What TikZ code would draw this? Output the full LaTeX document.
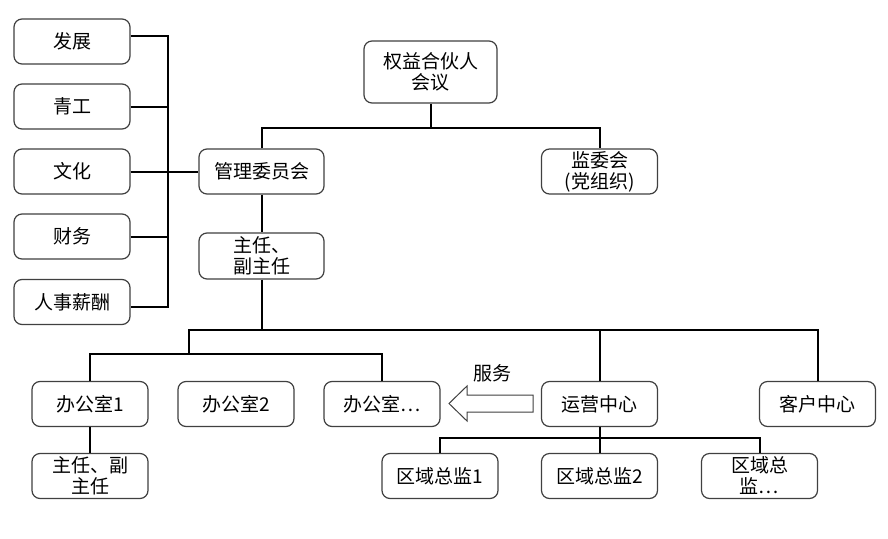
\documentclass[tikz,border=0pt]{standalone}
\usepackage{fontspec}
\setmainfont{Noto Sans CJK SC}
\definecolor{boxgray}{RGB}{64,64,64}
\begin{document}
\begin{tikzpicture}[x=1pt,y=-1pt,
    box/.style={draw=boxgray, line width=1.2pt, rounded corners=8pt, minimum width=116pt,
        minimum height=45pt, inner sep=0pt, align=center, font=\fontsize{19}{21}\selectfont},
    link/.style={line width=2pt}]
    \fill[white] (0,0) rectangle (888,538);
    % left column
    \node[box] (fazhan) at (72,41.5) {发展};
    \node[box] (qinggong) at (72,106.5) {青工};
    \node[box] (wenhua) at (72,171.5) {文化};
    \node[box] (caiwu) at (72,236.5) {财务};
    \node[box] (renshi) at (72,302) {人事薪酬};
    % top
    \node[box, minimum width=133pt, minimum height=62pt] (quanyi) at (430.5,72) {权益合伙人\\会议};
    \node[box, minimum width=125pt] (guanli) at (261.5,171.5) {管理委员会};
    \node[box] (jianwei) at (599.5,171.5) {监委会\\(党组织)};
    \node[box, minimum width=125pt, minimum height=46pt] (zhuren) at (261.5,256) {主任、\\副主任};
    % offices
    \node[box] (bangong1) at (90,404) {办公室1};
    \node[box] (bangong2) at (236,404) {办公室2};
    \node[box] (bangong3) at (382,404) {办公室…};
    \node[box] (yunying) at (599.5,404) {运营中心};
    \node[box] (kehu) at (817.5,404) {客户中心};
    \node[box] (bgzr) at (90,476) {主任、副\\主任};
    \node[box] (quyu1) at (440,476) {区域总监1};
    \node[box] (quyu2) at (599.5,476) {区域总监2};
    \node[box] (quyu3) at (759.5,476) {区域总\\监…};
    \node[font=\fontsize{19}{21}\selectfont] (fuwu) at (492,373) {服务};
    % junctions
    \coordinate (j1) at (430.5,128);
    \coordinate (bar) at (168,171.5);
    \coordinate (j2) at (261.5,330);
    \coordinate (j3) at (189,354);
    \coordinate (j4) at (599.5,438);
    % connectors
    \draw[link] (quanyi.south) -- (j1);
    \draw[link] (guanli.north) |- (j1) -| (jianwei.north);
    \draw[link] ([yshift=6pt]fazhan.east) -| (bar) |- ([yshift=-5pt]renshi.east);
    \draw[link] (qinggong.east) -- (qinggong.east -| bar);
    \draw[link] (caiwu.east) -- (caiwu.east -| bar);
    \draw[link] (wenhua.east) -- (guanli.west);
    \draw[link] (guanli.south) -- (zhuren.north);
    \draw[link] (zhuren.south) -- (j2);
    \draw[link] (j3) |- (kehu.north |- j2) -- (kehu.north);
    \draw[link] (yunying.north) -- (yunying.north |- j2);
    \draw[link] (bangong1.north) |- (j3) -| (bangong3.north);
    \draw[link] (bangong1.south) -- (bgzr.north);
    \draw[link] (yunying.south) -- (j4);
    \draw[link] (quyu1.north) |- (j4) -| (quyu3.north);
    \draw[link] (quyu2.north) -- (j4);
    % hollow arrow
    \draw[boxgray, line width=1pt] (533,395) -- (467,395) -- (467,386) -- (449,403.5)
        -- (467,421) -- (467,412) -- (533,412) -- cycle;
\end{tikzpicture}
\end{document}
